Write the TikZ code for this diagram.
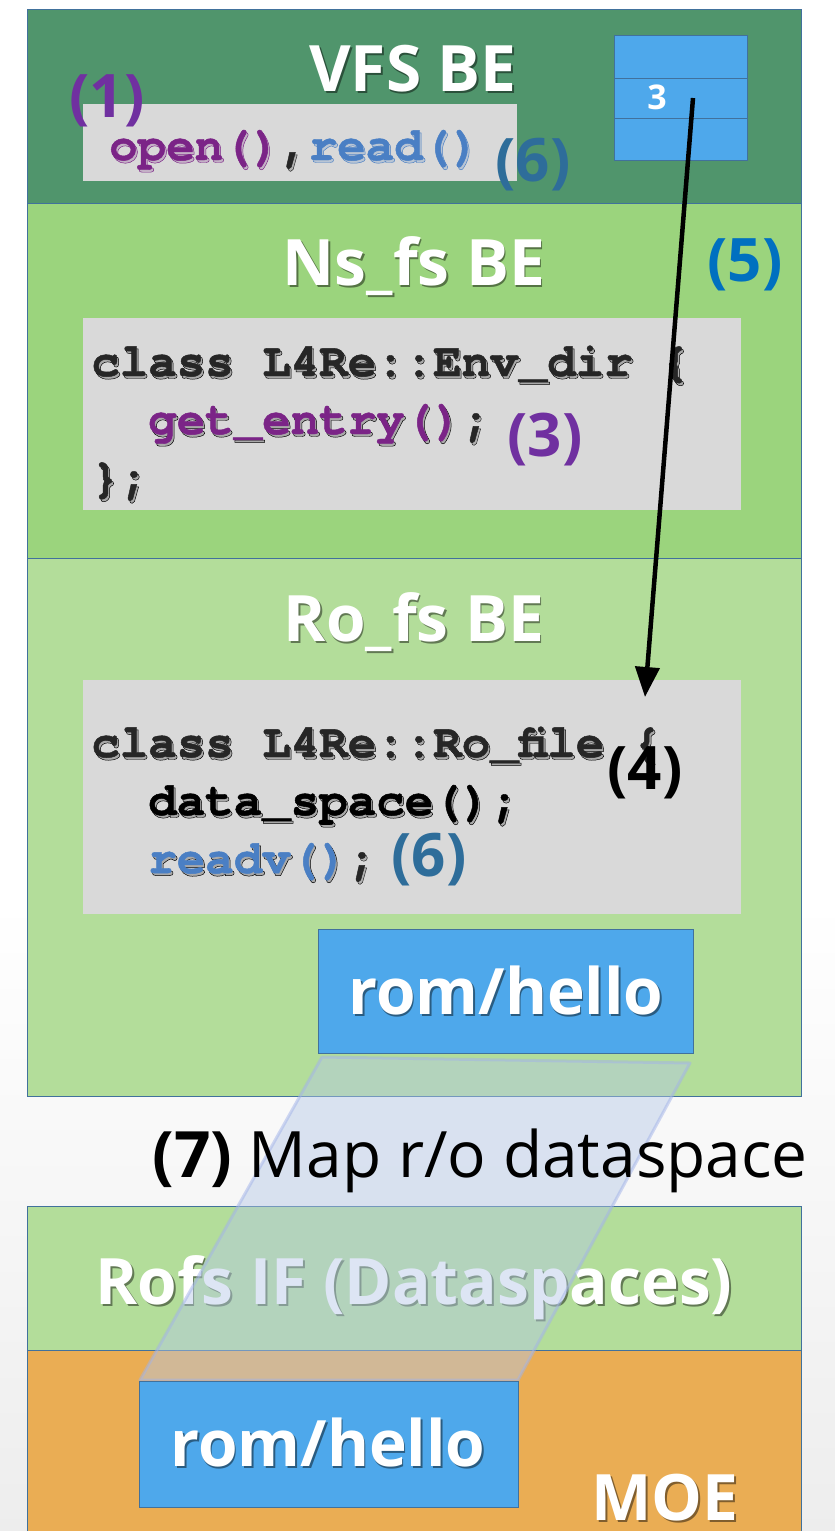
\documentclass[tikz,border=0pt]{standalone}
\usepackage{fontspec}
\setmainfont{Open Sans}
\newfontfamily\codefont{texgyrecursor}[Extension=.otf, UprightFont=*-regular, BoldFont=*-bold, BoldFeatures={FakeBold=1}]
\usetikzlibrary{arrows.meta}

\definecolor{vfsgreen}{HTML}{50956C}
\definecolor{nsgreen}{HTML}{9BD47D}
\definecolor{rogreen}{HTML}{B3DD9A}
\definecolor{moeorange}{HTML}{EAAD54}
\definecolor{edgeblue}{HTML}{41719C}
\definecolor{codegray}{HTML}{D9D9D9}
\definecolor{cellblue}{HTML}{4EA8EB}
\definecolor{stepviolet}{HTML}{7030A0}
\definecolor{codeviolet}{HTML}{7B2487}
\definecolor{codeblue}{HTML}{4A7FC4}
\definecolor{stepsteel}{HTML}{2E6D9A}
\definecolor{stepblue}{HTML}{0070C0}
\definecolor{codedark}{HTML}{262626}
\definecolor{mapblue}{HTML}{B4C7E7}

% text with a soft drop shadow
\newcommand\shd[2][0.45]{\makebox[0pt][l]{\hspace*{1.8pt}\raisebox{-2.5pt}{\pgfsetfillopacity{#1}\textcolor{black}{#2}\pgfsetfillopacity{1}}}#2}

\tikzset{
  layer/.style={draw=edgeblue, line width=1pt, inner sep=0, outer sep=0, anchor=north west},
  codebox/.style={fill=codegray, inner sep=0, outer sep=0, anchor=north west},
  cell/.style={fill=cellblue, draw=edgeblue, line width=1pt, inner sep=0, outer sep=0, anchor=north west},
  heading/.style={text=white, font=\bfseries\fontsize{64}{70}\selectfont, inner sep=0, anchor=base},
  steplbl/.style={font=\bfseries\fontsize{60}{64}\selectfont, inner sep=0},
  codeline/.style={font=\codefont\bfseries\fontsize{47.5}{58}\selectfont, inner sep=0, anchor=base west, text=codedark},
  pointer/.style={line width=4.5pt, -{Triangle[length=30pt,width=24pt]}},
}

\begin{document}
\begin{tikzpicture}[x=1pt, y=-1pt]
% page and a faint grey fade towards the bottom
\useasboundingbox (0,0) rectangle (835,1531);
\fill[white] (0,0) rectangle (835,1531);
\shade[top color=white, bottom color=black!7] (0,900) rectangle (835,1531);

% stacked layers
\node[layer, fill=vfsgreen, minimum width=774pt, minimum height=194pt] (vfs) at (27,9) {};
\node[layer, fill=nsgreen, minimum width=774pt, minimum height=355pt] (nsfs) at (27,203) {};
\node[layer, fill=rogreen, minimum width=774pt, minimum height=538pt] (rofs) at (27,558) {};
\node[layer, fill=rogreen, minimum width=774pt, minimum height=144pt] (rofsif) at (27,1206) {};
\node[layer, fill=moeorange, minimum width=774pt, minimum height=185pt] (moe) at (27,1350) {};

% code panels
\node[codebox, minimum width=434pt, minimum height=77pt] (vfscode) at (83,104) {};
\node[codebox, minimum width=658pt, minimum height=192pt] (nscode) at (83,318) {};
\node[codebox, minimum width=658pt, minimum height=234pt] (rocode) at (83,680) {};

% file descriptor table
\node[cell, minimum width=133pt, minimum height=43pt] (fd0) at (614,35) {};
\node[cell, minimum width=133pt, minimum height=40pt] (fd1) at (614,78) {};
\node[cell, minimum width=133pt, minimum height=42pt] (fd2) at (614,118) {};
\node[text=white, font=\bfseries\fontsize{34}{36}\selectfont, inner sep=0] (fdnum) at (657,97) {3};

% file object inside Ro_fs
\node[cell, minimum width=375pt, minimum height=124pt] (romtop) at (318,929) {};

% layer headings
\node[heading] (tvfs) at (413,91) {\shd{VFS BE}};
\node[heading] (tns) at (414,285) {\shd{Ns\_fs BE}};
\node[heading] (tro) at (414,641) {\shd{Ro\_fs BE}};
\node[heading] (tromtop) at (506,1014) {\shd{rom/hello}};
\node[heading] (tif) at (414,1304) {\shd{Rofs IF (Dataspaces)}};

% code listings
\node[codeline] (c0) at (109,160) {\shd[0.22]{\textcolor{codeviolet}{open()}\textcolor{codedark}{,}\textcolor{codeblue}{read()}}};
\node[codeline] (c1) at (91,376) {\shd[0.22]{class L4Re::Env\_dir \{}};
\node[codeline, text=codeviolet] (c2) at (148,434) {\shd[0.22]{get\_entry()\textcolor{codedark}{;}}};
\node[codeline] (c3) at (91,492) {\shd[0.22]{\};}};
\node[codeline] (c4) at (91,757) {\shd[0.22]{class L4Re::Ro\_file \{}};
\node[codeline, text=black] (c5) at (148,815) {\shd[0.22]{data\_space();}};
\node[codeline, text=codeblue] (c6) at (148,873) {\shd[0.22]{readv()\textcolor{codedark}{;}}};

% call sequence
\coordinate (src) at (693,98);
\coordinate (dst) at (645,697);
\draw[pointer] (src) -- (dst);

% step numbers
\node[steplbl, text=stepviolet] (s1) at (107,101) {(1)};
\node[steplbl, text=stepsteel] (s6a) at (533,165) {(6)};
\node[steplbl, text=stepblue] (s5) at (745,265) {(5)};
\node[steplbl, text=stepviolet] (s3) at (545,440) {(3)};
\node[steplbl, text=black] (s4) at (645,773) {(4)};
\node[steplbl, text=stepsteel] (s6b) at (429,860) {(6)};

% mapping of the read-only dataspace
\coordinate (m1) at (322,1057);
\coordinate (m2) at (690,1063);
\coordinate (m3) at (518,1380);
\coordinate (m4) at (140,1380);
\filldraw[fill=mapblue, fill opacity=0.45, draw=mapblue!90!blue, draw opacity=0.5, line width=3pt, line join=round]
  (m1) -- (m2) -- (m3) -- (m4) -- cycle;

\node[inner sep=0, anchor=base east, font=\fontsize{64}{70}\selectfont] (maplbl) at (808,1177) {\textbf{(7)} Map r/o dataspace};

% dataspace in MOE
\node[cell, minimum width=379pt, minimum height=126pt] (rombot) at (139,1381) {};
\node[heading] (trombot) at (328,1466) {\shd{rom/hello}};
\node[heading] (tmoe) at (665,1520) {\shd{MOE}};
\end{tikzpicture}
\end{document}
